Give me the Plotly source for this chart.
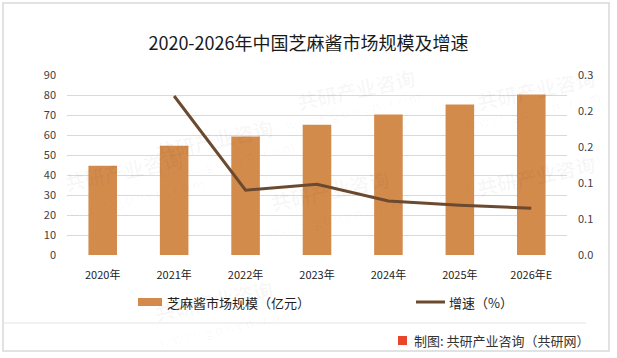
import plotly.graph_objects as go

years = ["2020年", "2021年", "2022年", "2023年", "2024年", "2025年", "2026年E"]
market_size = [44.6, 54.6, 59.2, 65.1, 70.2, 75.3, 80.3]
growth_years = ["2021年", "2022年", "2023年", "2024年", "2025年", "2026年E"]
growth_rate = [0.265, 0.108, 0.118, 0.090, 0.083, 0.078]
right_ticks = [0, 0.06, 0.12, 0.18, 0.24, 0.30]
bar_name = "芝麻酱市场规模（亿元）"
line_name = "增速（%）"

FONT = "Noto Sans CJK SC, Microsoft YaHei, sans-serif"
W, H = 617, 358
L, R, T, B = 67, 50, 75, 103
PW = W - L - R
PH = H - T - B
BAR_COLOR = "#D38B4C"
LINE_COLOR = "#6B4A2F"


def px(x):
    return (x - L) / PW


def py(y):
    return (H - B - y) / PH


fig = go.Figure()
fig.add_trace(go.Bar(x=years, y=market_size, name=bar_name, showlegend=False,
                     marker=dict(color=BAR_COLOR, line=dict(width=0)), yaxis="y"))
fig.add_trace(go.Scatter(x=growth_years, y=growth_rate, name=line_name, mode="lines", showlegend=False,
                         line=dict(color=LINE_COLOR, width=3), yaxis="y2"))

annotations = []
# faint watermarks
wm = [(150, 110), (420, 60), (330, 220), (150, 330), (600, 175), (60, 200), (600, 60)]
for (x, y) in wm:
    annotations.append(dict(xref="paper", yref="paper", x=px(x), y=py(y),
                            text="<b>共研产业咨询</b>", showarrow=False, textangle=-12,
                            font=dict(family=FONT, size=20, color="rgba(0,0,0,0.035)")))
    annotations.append(dict(xref="paper", yref="paper", x=px(x + 5), y=py(y + 24),
                            text="w w w . g o n y n . c o m", showarrow=False, textangle=-12,
                            font=dict(family=FONT, size=13, color="rgba(0,0,0,0.035)")))
# legend (manual)
annotations.append(dict(xref="paper", yref="paper", x=px(165), y=py(302), xanchor="left", yanchor="middle",
                        text=bar_name, showarrow=False, font=dict(family=FONT, size=13, color="#222222")))
annotations.append(dict(xref="paper", yref="paper", x=px(447), y=py(302), xanchor="left", yanchor="middle",
                        text=line_name, showarrow=False, font=dict(family=FONT, size=13, color="#222222")))
# footer
annotations.append(dict(xref="paper", yref="paper", x=px(412), y=py(340),
                        xanchor="left", yanchor="middle", text="制图: 共研产业咨询（共研网）",
                        showarrow=False, font=dict(family=FONT, size=13, color="#333333")))

shapes = [
    dict(type="rect", xref="paper", yref="paper", x0=px(3), x1=px(609),
         y0=py(351), y1=py(3), line=dict(color="#D9D9D9", width=1.5), layer="below"),
    dict(type="line", xref="paper", yref="paper", x0=px(3), x1=px(586),
         y0=py(323), y1=py(323), line=dict(color="#E3E3E3", width=1)),
    dict(type="rect", xref="paper", yref="paper", x0=px(398), x1=px(407),
         y0=py(345), y1=py(336), fillcolor="#E8452C", line=dict(width=0)),
    dict(type="rect", xref="paper", yref="paper", x0=px(138), x1=px(162),
         y0=py(306), y1=py(298), fillcolor=BAR_COLOR, line=dict(width=0)),
    dict(type="line", xref="paper", yref="paper", x0=px(416), x1=px(445),
         y0=py(302), y1=py(302), line=dict(color=LINE_COLOR, width=3)),
]

fig.update_layout(
    width=W, height=H,
    margin=dict(l=L, r=R, t=T, b=B, autoexpand=False),
    paper_bgcolor="white", plot_bgcolor="white",
    showlegend=False,
    font=dict(family=FONT, size=11, color="#404040"),
    title=dict(text="2020-2026年中国芝麻酱市场规模及增速", x=0.5, xanchor="center",
               y=1 - 44 / H, yanchor="middle", yref="container",
               font=dict(family=FONT, size=18, color="#1A1A1A")),
    bargap=0.6,
    xaxis=dict(showgrid=False, showline=False, ticks="", ticklabelstandoff=12, automargin=False,
               tickfont=dict(size=11, color="#222222")),
    yaxis=dict(range=[0, 90], dtick=10, showgrid=True, gridcolor="#D9D9D9", gridwidth=1,
               zeroline=False, showline=False, ticklabelstandoff=10, automargin=False,
               tickfont=dict(size=11, color="#404040")),
    yaxis2=dict(range=[0, 0.3], tickvals=right_ticks, tickformat=".1f", overlaying="y",
                side="right", showgrid=False, zeroline=False, showline=False, automargin=False,
                ticklabelstandoff=10, tickfont=dict(size=11, color="#404040")),
    annotations=annotations,
    shapes=shapes,
)

fig.write_html("out.html", config={"displayModeBar": False},
               post_script="document.body.style.margin='0';document.body.style.padding='0';")
